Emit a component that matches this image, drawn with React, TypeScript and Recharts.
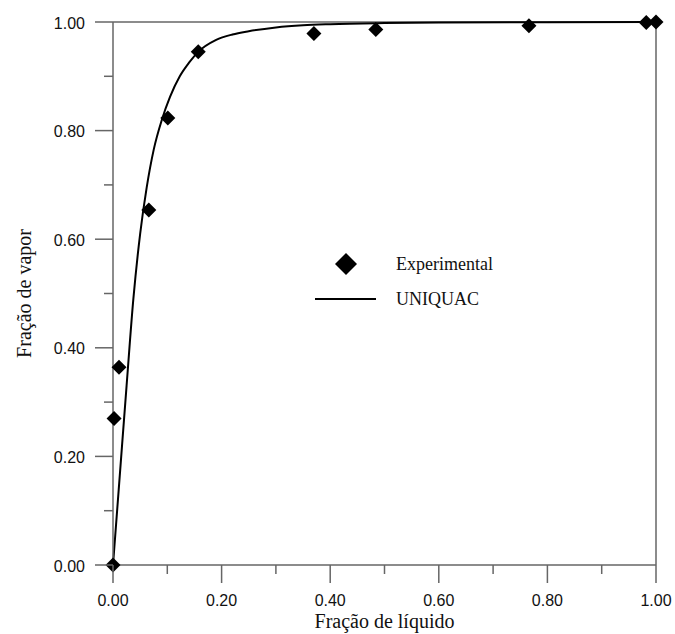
import React from 'react';
import { ComposedChart, Line, Scatter, XAxis, YAxis, ReferenceLine, Legend } from 'recharts';

// experimental points (liquid fraction, vapour fraction)
const expX = [0, 0.002, 0.011, 0.066, 0.101, 0.157, 0.37, 0.484, 0.766, 0.982, 1.0];
const expY = [0, 0.27, 0.364, 0.654, 0.823, 0.945, 0.979, 0.986, 0.993, 0.999, 1.0];

// UNIQUAC curve
const uniX = [0, 0.0125, 0.025, 0.0375, 0.05, 0.062, 0.075, 0.09, 0.105, 0.123, 0.14, 0.157, 0.19, 0.22, 0.25, 0.3, 0.35, 0.4, 0.5, 0.6, 0.8, 1.0];
const uniY = [0, 0.165, 0.33, 0.49, 0.61, 0.695, 0.765, 0.82, 0.862, 0.9, 0.925, 0.945, 0.967, 0.977, 0.983, 0.99, 0.994, 0.996, 0.998, 0.999, 0.9995, 1.0];

const ticks = [0, 0.1, 0.2, 0.3, 0.4, 0.5, 0.6, 0.7, 0.8, 0.9, 1.0];

const expData = expX.map((x, i) => ({ x, y: expY[i] }));
const uniData = uniX.map((x, i) => ({ x, y: uniY[i] }));

const AXIS = '#666';
const SANS = "'Liberation Sans', Arial, sans-serif";
const SERIF = "'Liberation Serif', 'Times New Roman', serif";
const isMajor = (v: number) => Math.round(v * 10) % 2 === 0;

const XTick = (props: any) => {
  const { x, y, payload } = props;
  const major = isMajor(payload.value);
  return (
    <g>
      <line x1={x} x2={x} y1={y} y2={y + (major ? 18 : 9)} stroke={AXIS} strokeWidth={1.5} />
      {major && (
        <text x={x} y={y + 41} textAnchor="middle" fontFamily={SANS} fontSize={16} fill="#111">
          {payload.value.toFixed(2)}
        </text>
      )}
    </g>
  );
};

const YTick = (props: any) => {
  const { x, y, payload } = props;
  const major = isMajor(payload.value);
  return (
    <g>
      <line x1={x} x2={x - (major ? 18 : 9)} y1={y} y2={y} stroke={AXIS} strokeWidth={1.5} />
      {major && (
        <text x={x - 28} y={y + 6.5} textAnchor="end" fontFamily={SANS} fontSize={16} fill="#111">
          {payload.value.toFixed(2)}
        </text>
      )}
    </g>
  );
};

const Diamond = (props: any) => {
  const { cx, cy } = props;
  const r = 7.5;
  return <polygon points={`${cx},${cy - r} ${cx + r},${cy} ${cx},${cy + r} ${cx - r},${cy}`} fill="#000" />;
};

const XTitle = (props: any) => {
  const { x, y, width } = props.viewBox;
  return (
    <text x={x + width / 2} y={y + 63} textAnchor="middle" fontFamily={SERIF} fontSize={20} fill="#111">
      Fração de líquido
    </text>
  );
};

const YTitle = (props: any) => {
  const { y, height } = props.viewBox;
  const cx = 31;
  const cy = y + height / 2;
  return (
    <text x={cx} y={cy} transform={`rotate(-90, ${cx}, ${cy})`} textAnchor="middle" fontFamily={SERIF} fontSize={20} fill="#111">
      Fração de vapor
    </text>
  );
};

const renderLegend = () => (
  <svg width={200} height={70} style={{ display: 'block' }}>
    <polygon points="46,8 57,19 46,30 35,19" fill="#000" />
    <line x1={15} x2={76} y1={54} y2={54} stroke="#000" strokeWidth={2} />
    <text x={96} y={25} fontFamily={SERIF} fontSize={18} fill="#111">Experimental</text>
    <text x={96} y={60} fontFamily={SERIF} fontSize={18} fill="#111">UNIQUAC</text>
  </svg>
);

export default function App() {
  return (
    <div style={{ position: 'absolute', left: 0, top: 0, background: '#fff' }}>
      <ComposedChart width={675} height={634} margin={{ top: 22, right: 19, bottom: 0, left: 0 }}>
        <XAxis
          type="number"
          dataKey="x"
          domain={[0, 1]}
          ticks={ticks}
          interval={0}
          tick={<XTick />}
          tickLine={false}
          tickSize={0}
          tickMargin={0}
          height={69}
          axisLine={{ stroke: AXIS, strokeWidth: 1.5 }}
          label={<XTitle />}
        />
        <YAxis
          type="number"
          domain={[0, 1]}
          ticks={ticks}
          interval={0}
          tick={<YTick />}
          tickLine={false}
          tickSize={0}
          tickMargin={0}
          width={113}
          axisLine={{ stroke: AXIS, strokeWidth: 1.5 }}
          label={<YTitle />}
        />
        <ReferenceLine y={1} stroke={AXIS} strokeWidth={1.5} />
        <ReferenceLine x={1} stroke={AXIS} strokeWidth={1.5} />
        <Legend
          layout="vertical"
          align="center"
          verticalAlign="middle"
          content={renderLegend}
          wrapperStyle={{ left: 300, top: 245, width: 200, height: 70 }}
        />
        <Line data={uniData} dataKey="y" type="monotone" stroke="#000" strokeWidth={2} dot={false} activeDot={false} isAnimationActive={false} />
        <Scatter data={expData} dataKey="y" shape={<Diamond />} fill="#000" isAnimationActive={false} />
      </ComposedChart>
    </div>
  );
}
